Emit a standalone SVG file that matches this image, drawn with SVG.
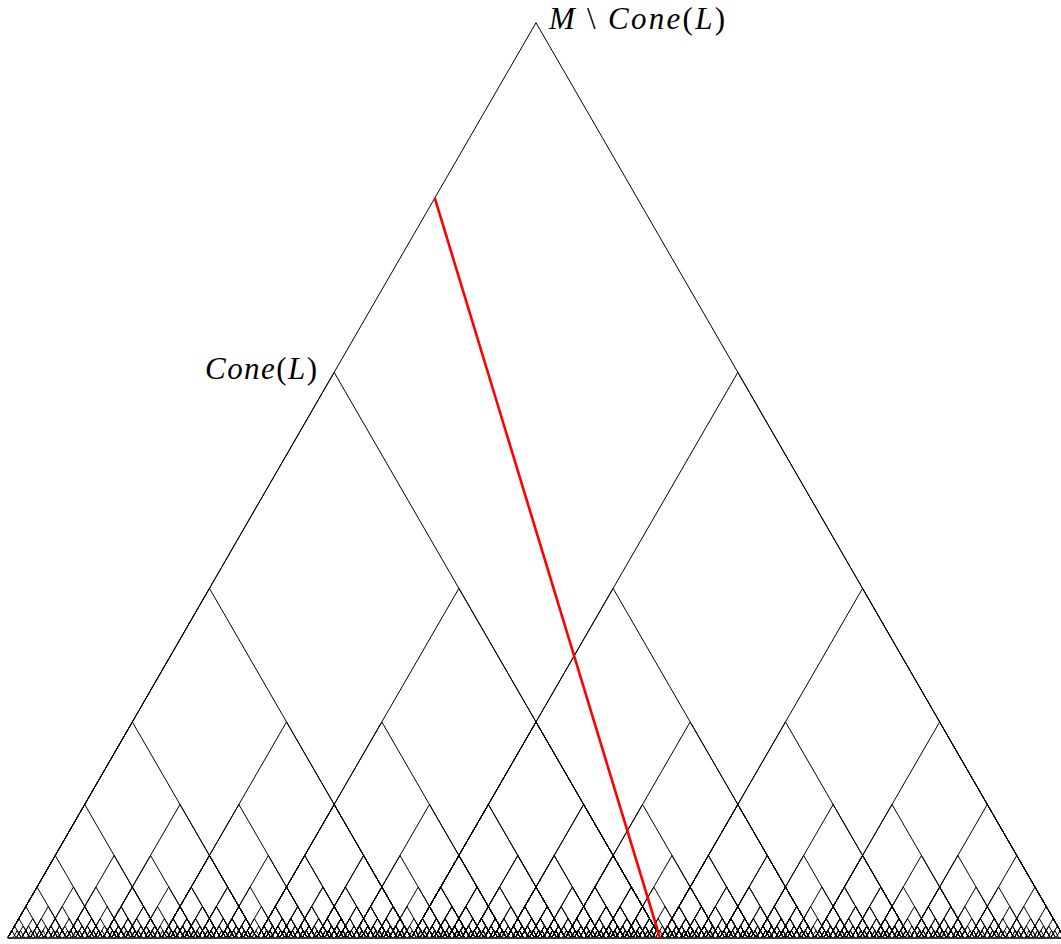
<svg xmlns="http://www.w3.org/2000/svg" width="1061" height="944" viewBox="0 0 1061 944">
<style>
.t{fill:none;stroke:#000;stroke-width:1;vector-effect:non-scaling-stroke}
.lbl{font-family:"Liberation Serif","DejaVu Serif",serif;font-size:31px;fill:#000}
.i{font-style:italic}
.red{stroke:#ff0000;stroke-width:2.6;fill:none}
</style>
<defs>
<path id="tri" class="t" d="M7.6 938L536 22.7L1064.4 938"/>
<g id="g0"><use href="#tri"/></g>
<g id="g1"><use href="#tri"/><use href="#g0" transform="matrix(0.618034 0 0 0.618034 2.9029 358.284)"/><use href="#g0" transform="matrix(0.618034 0 0 0.618034 406.565 358.284)"/></g>
<g id="g2"><use href="#tri"/><use href="#g1" transform="matrix(0.618034 0 0 0.618034 2.9029 358.284)"/><use href="#g1" transform="matrix(0.618034 0 0 0.618034 406.565 358.284)"/></g>
<g id="g3"><use href="#tri"/><use href="#g2" transform="matrix(0.618034 0 0 0.618034 2.9029 358.284)"/><use href="#g2" transform="matrix(0.618034 0 0 0.618034 406.565 358.284)"/></g>
<g id="g4"><use href="#tri"/><use href="#g3" transform="matrix(0.618034 0 0 0.618034 2.9029 358.284)"/><use href="#g3" transform="matrix(0.618034 0 0 0.618034 406.565 358.284)"/></g>
<g id="g5"><use href="#tri"/><use href="#g4" transform="matrix(0.618034 0 0 0.618034 2.9029 358.284)"/><use href="#g4" transform="matrix(0.618034 0 0 0.618034 406.565 358.284)"/></g>
<g id="g6"><use href="#tri"/><use href="#g5" transform="matrix(0.618034 0 0 0.618034 2.9029 358.284)"/><use href="#g5" transform="matrix(0.618034 0 0 0.618034 406.565 358.284)"/></g>
<g id="g7"><use href="#tri"/><use href="#g6" transform="matrix(0.618034 0 0 0.618034 2.9029 358.284)"/><use href="#g6" transform="matrix(0.618034 0 0 0.618034 406.565 358.284)"/></g>
<g id="g8"><use href="#tri"/><use href="#g7" transform="matrix(0.618034 0 0 0.618034 2.9029 358.284)"/><use href="#g7" transform="matrix(0.618034 0 0 0.618034 406.565 358.284)"/></g>
<g id="g9"><use href="#tri"/><use href="#g8" transform="matrix(0.618034 0 0 0.618034 2.9029 358.284)"/><use href="#g8" transform="matrix(0.618034 0 0 0.618034 406.565 358.284)"/></g>
<g id="g10"><use href="#tri"/><use href="#g9" transform="matrix(0.618034 0 0 0.618034 2.9029 358.284)"/><use href="#g9" transform="matrix(0.618034 0 0 0.618034 406.565 358.284)"/></g>
</defs>
<rect width="1061" height="944" fill="#fff"/>
<g id="fractal">
<use href="#g10"/>
<line x1="7.6" y1="938" x2="1064.4" y2="938" stroke="#333" stroke-width="2"/>
</g>
<g id="connectors">
<line class="red" x1="434.7" y1="197.7" x2="660" y2="938"/>
</g>
<g id="label-top">
<text class="lbl" x="549" y="29" textLength="176" lengthAdjust="spacing"><tspan class="i">M</tspan> \ <tspan class="i">Cone</tspan>(<tspan class="i">L</tspan>)</text>
</g>
<g id="label-left">
<text class="lbl" x="205" y="379" textLength="112" lengthAdjust="spacing"><tspan class="i">Cone</tspan>(<tspan class="i">L</tspan>)</text>
</g>
</svg>
